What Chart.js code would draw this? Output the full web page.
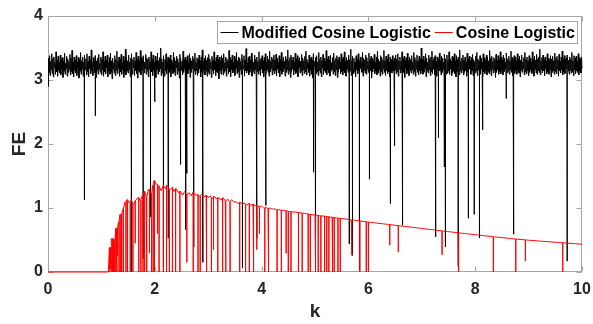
<!DOCTYPE html>
<html>
<head>
<meta charset="utf-8">
<script src="https://cdn.jsdelivr.net/npm/chart.js@4.4.0/dist/chart.umd.min.js"></script>
<style>
  html, body { margin: 0; padding: 0; background: #fff; }
</style>
</head>
<body>
<canvas id="chart" width="593" height="324"></canvas>
<script>
const seriesNames = ['Modified Cosine Logistic', 'Cosine Logistic']
const seriesColors = ['#000000', '#ff0000']
const xTicks = [0, 2, 4, 6, 8, 10]
const yTicks = [0, 1, 2, 3, 4]

// Modified Cosine Logistic, FE every 0.01 in k (k = 0 .. 10)
const modStep = 0.01
const modFE = [
  2.90,3.34,3.12,3.38,3.07,3.29,3.16,3.41,3.10,3.33,3.05,3.36,3.19,3.27,3.09,3.44,3.13,3.31,3.06,3.37,3.15,3.28,3.11,3.39,3.08,
  3.32,3.17,3.35,3.04,3.30,3.14,3.42,3.09,3.26,3.18,3.37,3.06,3.33,3.12,3.29,3.16,3.40,3.08,3.34,3.13,3.46,3.10,3.28,3.05,3.36,
  3.15,3.31,3.11,3.38,3.07,3.27,3.19,3.35,3.03,3.32,3.14,3.43,3.09,3.30,3.17,3.36,3.06,3.28,3.12,3.39,3.16,3.33,3.08,3.41,3.13,
  3.29,3.05,3.37,3.18,3.32,3.10,3.47,3.14,3.27,3.07,3.35,3.20,3.31,3.11,3.38,3.04,3.30,3.15,3.34,3.09,3.40,3.17,3.26,3.12,3.36,
  3.08,3.33,3.16,3.44,3.06,3.29,3.13,3.37,3.10,3.31,3.19,3.39,3.05,3.28,3.14,3.35,3.09,3.42,3.12,3.30,3.02,3.34,3.17,3.27,3.11,
  3.38,3.07,3.32,3.15,3.45,3.10,3.29,3.18,3.36,3.06,3.33,3.13,3.40,3.09,3.27,3.16,3.37,3.04,3.31,3.12,3.48,3.08,3.35,3.14,3.30,
  3.11,3.39,3.17,3.28,3.05,3.34,3.13,3.41,3.09,3.32,3.19,3.36,3.07,3.29,3.15,3.43,3.10,3.33,3.03,3.37,3.14,3.30,3.12,3.46,3.08,
  3.35,3.16,3.31,3.06,3.38,3.11,3.28,3.18,3.40,3.09,3.34,3.14,3.32,3.05,3.36,3.17,3.29,3.10,3.44,3.13,3.33,3.07,3.39,3.15,3.27,
  3.12,3.37,3.04,3.31,3.16,3.42,3.09,3.30,3.13,3.35,3.18,3.50,3.07,3.33,3.11,3.28,3.15,3.38,3.06,3.32,3.14,3.41,3.10,3.29,3.17,
  3.36,3.08,3.34,3.12,3.39,3.05,3.31,3.16,3.27,3.10,3.43,3.13,3.35,3.07,3.30,3.19,3.37,3.09,3.33,3.14,3.28,3.03,3.40,3.11,3.34,
  3.15,3.29,3.08,3.45,3.12,3.32,3.17,3.36,3.06,3.31,3.13,3.38,3.10,3.27,3.16,3.41,3.04,3.34,3.12,3.30,3.18,3.37,3.08,3.33,3.14,
  3.42,3.09,3.28,3.15,3.35,3.07,3.32,3.11,3.39,3.17,3.30,3.05,3.36,3.13,3.47,3.10,3.29,3.16,3.34,3.08,3.38,3.14,3.31,3.06,3.35,
  3.12,3.40,3.09,3.33,3.18,3.28,3.04,3.37,3.14,3.31,3.10,3.44,3.16,3.29,3.07,3.35,3.13,3.39,3.11,3.32,3.02,3.36,3.15,3.30,3.09,
  3.38,3.17,3.34,3.08,3.41,3.12,3.27,3.15,3.36,3.06,3.33,3.19,3.30,3.10,3.46,3.13,3.35,3.05,3.31,3.16,3.39,3.11,3.28,3.14,3.37,
  3.07,3.32,3.18,3.43,3.10,3.30,3.13,3.36,3.04,3.34,3.16,3.29,3.09,3.40,3.12,3.33,3.17,3.38,3.06,3.31,3.14,3.49,3.11,3.27,3.15,
  3.35,3.08,3.37,3.12,3.30,3.18,3.42,3.06,3.33,3.14,3.28,3.10,3.39,3.16,3.32,3.03,3.36,3.13,3.29,3.09,3.44,3.15,3.31,3.07,3.34,
  3.17,3.38,3.11,3.30,3.05,3.35,3.14,3.41,3.09,3.28,3.16,3.37,3.12,3.32,3.06,3.45,3.13,3.29,3.18,3.36,3.08,3.33,3.15,3.39,3.10,
  3.31,3.14,3.40,3.07,3.34,3.17,3.27,3.11,3.38,3.05,3.32,3.15,3.43,3.09,3.30,3.13,3.36,3.18,3.29,3.06,3.37,3.12,3.33,3.16,3.47,
  3.09,3.30,3.14,3.35,3.04,3.39,3.12,3.31,3.17,3.36,3.08,3.28,3.15,3.42,3.10,3.33,3.13,3.38,3.05,3.31,3.19,3.35,3.11,3.29,3.14,
  3.40,3.07,3.34,3.16,3.30,3.10,3.37,3.13,3.45,3.08,3.32,3.18,3.27,3.12,3.39,3.06,3.33,3.15,3.36,3.09,3.31,3.03,3.41,3.14,3.29,
  3.17,3.35,3.10,3.38,3.13,3.28,3.07,3.43,3.15,3.32,3.11,3.36,3.05,3.30,3.18,3.40,3.09,3.34,3.14,3.29,3.12,3.46,3.08,3.33,3.16,
  3.37,3.11,3.31,3.06,3.39,3.14,3.27,3.17,3.35,3.09,3.42,3.13,3.30,3.07,3.34,3.16,3.38,3.04,3.32,3.12,3.36,3.18,3.28,3.10,3.41,
  3.13,3.33,3.08,3.36,3.15,3.44,3.11,3.29,3.06,3.35,3.17,3.31,3.12,3.39,3.09,3.32,3.14,3.48,3.07,3.30,3.16,3.37,3.10,3.34,3.13,
  3.28,3.05,3.38,3.16,3.33,3.10,3.41,3.14,3.30,3.08,3.36,3.18,3.27,3.12,3.43,3.06,3.34,3.15,3.31,3.11,3.39,3.09,3.35,3.17,3.29,
  3.12,3.42,3.07,3.32,3.15,3.37,3.03,3.34,3.13,3.30,3.18,3.40,3.10,3.28,3.14,3.36,3.08,3.45,3.11,3.33,3.16,3.29,3.06,3.38,3.13,
  3.35,3.09,3.31,3.17,3.46,3.12,3.30,3.07,3.37,3.15,3.33,3.10,3.40,3.13,3.28,3.05,3.36,3.18,3.32,3.11,3.38,3.14,3.29,3.08,3.34,
  3.16,3.39,3.10,3.33,3.13,3.41,3.06,3.30,3.17,3.36,3.11,3.29,3.15,3.44,3.09,3.34,3.12,3.37,3.04,3.31,3.18,3.35,3.10,3.42,3.14,
  3.30,3.07,3.36,3.15,3.32,3.11,3.38,3.16,3.28,3.09,3.43,3.13,3.35,3.06,3.31,3.17,3.39,3.12,3.29,3.08,3.37,3.14,3.33,3.10,3.50,
  3.15,3.32,3.09,3.37,3.12,3.30,3.18,3.41,3.05,3.34,3.14,3.28,3.11,3.39,3.16,3.33,3.07,3.36,3.13,3.45,3.10,3.31,3.17,3.35,3.08,
  3.38,3.13,3.29,3.06,3.36,3.16,3.32,3.10,3.42,3.14,3.30,3.08,3.37,3.12,3.34,3.17,3.28,3.04,3.40,3.15,3.33,3.09,3.39,3.11,3.31,
  3.14,3.44,3.09,3.33,3.17,3.29,3.07,3.37,3.12,3.35,3.15,3.41,3.10,3.30,3.05,3.38,3.13,3.32,3.18,3.36,3.08,3.47,3.14,3.29,3.11,
  3.34,3.16,3.39,3.08,3.31,3.12,3.36,3.15,3.28,3.06,3.42,3.13,3.33,3.10,3.37,3.17,3.30,3.09,3.35,3.14,3.40,3.07,3.32,3.16,3.29,
  3.11,3.37,3.14,3.43,3.07,3.33,3.16,3.30,3.12,3.38,3.09,3.34,3.17,3.28,3.05,3.41,3.13,3.35,3.10,3.31,3.15,3.39,3.08,3.36,3.13,
  3.30,3.10,3.46,3.14,3.34,3.07,3.37,3.17,3.29,3.11,3.35,3.15,3.32,3.04,3.40,3.12,3.31,3.16,3.38,3.09,3.33,3.13,3.44,3.10,3.36,
  3.15,3.31,3.08,3.39,3.13,3.34,3.18,3.28,3.06,3.42,3.11,3.33,3.14,3.37,3.09,3.30,3.16,3.45,3.12,3.35,3.07,3.32,3.17,3.38,3.10,
  3.36,3.14,3.30,3.09,3.41,3.16,3.33,3.11,3.37,3.05,3.31,3.15,3.39,3.12,3.28,3.18,3.35,3.08,3.43,3.13,3.32,3.10,3.36,3.15,3.30,
  3.07,3.38,3.12,3.34,3.16,3.29,3.10,3.44,3.14,3.32,3.06,3.37,3.17,3.31,3.11,3.40,3.09,3.33,3.15,3.36,3.12,3.48,3.08,3.30,3.16,
  3.35,3.11,3.39,3.14,3.32,3.07,3.36,3.17,3.29,3.10,3.41,3.13,3.34,3.09,3.31,3.16,3.38,3.05,3.33,3.12,3.37,3.15,3.30,3.09,3.42,
  3.13,3.34,3.10,3.37,3.17,3.31,3.06,3.40,3.14,3.29,3.11,3.36,3.16,3.45,3.08,3.33,3.13,3.38,3.10,3.32,3.18,3.35,3.07,3.39,3.14,
  3.31,3.09,3.36,3.15,3.33,3.11,3.43,3.13,3.30,3.07,3.38,3.16,3.34,3.10,3.37,3.14,3.29,3.12,3.41,3.08,3.35,3.15,3.32,3.11,3.36,
  3.18
]
// sharp drops of the modified map: [k, lowest FE]
const modDrops = [
  [0.68, 1.13], [0.886, 2.44], [1.56, 0.01], [1.78, 0.21], [1.92, 0.86], [2.00, 2.66],
  [2.16, 0.08], [2.25, 0.53], [2.48, 1.68], [2.58, 0.66], [2.60, 1.54], [2.73, 0.39],
  [2.90, 0.15], [3.64, 0.06], [3.91, 0.53], [4.08, 1.04], [4.97, 1.56], [5.01, 0.63],
  [5.64, 0.44], [5.70, 0.26], [5.83, 0.03], [6.02, 1.45], [6.41, 1.07], [6.49, 1.97],
  [6.64, 0.73], [7.26, 0.55], [7.31, 2.10], [7.42, 1.64], [7.44, 0.39], [7.68, 0.09],
  [7.87, 0.84], [7.98, 0.90], [8.08, 0.53], [8.14, 2.22], [8.58, 2.71], [8.72, 0.59],
  [9.72, 0.17]
]

// Cosine Logistic: FE = 0 for k < 1.12, then every 0.04 in k up to 10
const cosStart = 1.12
const cosStep = 0.04
const cosFE = [
  0.00,0.38,0.52,0.48,0.68,0.78,0.90,0.98,1.09,1.13,1.08,1.14,1.05,1.11,1.16,1.12,1.19,1.26,1.18,1.29,
  1.22,1.35,1.43,1.36,1.34,1.27,1.35,1.30,1.35,1.28,1.32,1.26,1.30,1.24,1.26,1.20,1.26,1.20,1.24,1.19,
  1.25,1.20,1.21,1.18,1.22,1.17,1.20,1.16,1.19,1.15,1.18,1.14,1.16,1.12,1.16,1.11,1.14,1.10,1.13,1.09,
  1.10,1.07,1.09,1.06,1.08,1.05,1.07,1.04,1.06,1.03,1.04,1.02,1.03,1.00,1.01,0.99,1.00,0.98,0.99,0.97,
  0.975,0.965,0.965,0.955,0.955,0.945,0.945,0.935,0.938,0.928,0.927,0.918,0.917,0.908,0.907,0.898,0.897,0.888,
  0.886,0.882,0.877,0.873,0.868,0.862,0.859,0.855,0.850,0.846,0.842,0.837,0.833,0.829,0.824,0.819,0.815,0.812,0.806,0.802,
  0.798,0.793,0.789,0.785,0.780,0.776,0.772,0.769,0.764,0.760,0.757,0.752,0.748,0.745,0.740,0.736,0.733,0.728,0.724,0.721,
  0.716,0.712,0.709,0.704,0.700,0.697,0.692,0.688,0.685,0.680,0.676,0.673,0.668,0.664,0.661,0.656,0.652,0.649,0.644,0.640,
  0.637,0.632,0.628,0.625,0.621,0.617,0.614,0.609,0.605,0.602,0.597,0.594,0.591,0.586,0.582,0.579,0.575,0.572,0.567,0.564,
  0.561,0.557,0.554,0.549,0.546,0.543,0.539,0.536,0.532,0.528,0.525,0.522,0.518,0.515,0.513,0.509,0.506,0.503,0.500,0.497,
  0.494,0.492,0.489,0.486,0.484,0.481,0.479,0.476,0.474,0.471,0.469,0.467,0.464,0.461,0.459,0.457,0.454,0.451,0.449,0.447,
  0.444,0.441,0.439,0.437,0.435
]
// drops of the cosine map: [k, lowest FE]
const cosDrops = [
  [1.13, 0], [1.15, 0], [1.17, 0.05], [1.18, 0], [1.19, 0.22], [1.21, 0], [1.22, 0], [1.23, 0.30],
  [1.25, 0], [1.27, 0], [1.29, 0], [1.30, 0.25], [1.33, 0], [1.35, 0], [1.38, 0], [1.41, 0],
  [1.46, 0], [1.49, 0], [1.54, 0], [1.59, 0], [1.63, 0.45], [1.70, 0], [1.74, 0], [1.78, 0],
  [1.81, 0], [1.85, 0], [1.90, 0.30], [1.94, 0], [1.97, 0], [1.99, 0], [2.05, 0.60], [2.08, 0],
  [2.16, 0], [2.22, 0], [2.27, 0], [2.33, 0], [2.39, 0], [2.47, 0], [2.60, 0.15], [2.72, 0],
  [2.81, 0], [2.85, 0], [2.97, 0], [3.06, 0], [3.10, 0.35], [3.18, 0], [3.27, 0], [3.33, 0],
  [3.41, 0], [3.59, 0], [3.70, 0], [3.77, 0], [3.85, 0], [3.91, 0.35], [3.96, 0.60], [4.06, 0],
  [4.13, 0], [4.29, 0], [4.37, 0], [4.46, 0.29], [4.50, 0], [4.55, 0], [4.69, 0], [4.76, 0],
  [4.87, 0], [4.91, 0], [5.01, 0], [5.06, 0], [5.11, 0], [5.18, 0], [5.22, 0], [5.26, 0],
  [5.33, 0], [5.36, 0], [5.43, 0], [5.47, 0], [5.69, 0.26], [5.84, 0], [5.96, 0], [6.00, 0],
  [6.40, 0.42], [6.56, 0.31], [7.38, 0.27], [7.69, 0], [8.34, 0], [8.76, 0], [8.94, 0.17], [9.64, 0]
]

const tickFont = { family: '"Liberation Sans", Arial, Helvetica, sans-serif', size: 16, weight: 'bold' }
const titleFont = { family: '"Liberation Sans", Arial, Helvetica, sans-serif', size: 19, weight: 'bold' }
const textColor = '#262626'
const boxColor = '#a6a6a6'

// turn a sampled curve plus its drops into {x, y} points, sorted by k
function buildPoints(start, step, values, drops) {
  let pts = values.map((v, i) => ({ x: +(start + i * step).toFixed(4), y: v }))
  drops.forEach(d => {
    const top = values[Math.round((d[0] - start) / step)]
    pts.push({ x: d[0], y: top }, { x: d[0], y: d[1] }, { x: d[0], y: top })
  })
  pts.sort((a, b) => a.x - b.x)
  return pts
}

const modPoints = buildPoints(0, modStep, modFE, modDrops)
const cosPoints = [{ x: 0, y: 0 }].concat(buildPoints(cosStart, cosStep, cosFE, cosDrops))

// axes box with inward ticks on all four sides
const axesBox = {
  id: 'axesBox',
  beforeDatasetsDraw(chart) {
    const ctx = chart.ctx
    const a = chart.chartArea
    const xs = chart.scales.x
    const ys = chart.scales.y
    const L = Math.round(a.left) + 0.5, R = Math.round(a.right) - 0.5
    const T = Math.round(a.top) + 0.5, B = Math.round(a.bottom) - 0.5
    ctx.save()
    ctx.strokeStyle = boxColor
    ctx.lineWidth = 1
    ctx.strokeRect(L, T, R - L, B - T)
    ctx.beginPath()
    xTicks.forEach(t => {
      const px = Math.round(xs.getPixelForValue(t)) + 0.5
      ctx.moveTo(px, B); ctx.lineTo(px, B - 5)
      ctx.moveTo(px, T); ctx.lineTo(px, T + 5)
    })
    yTicks.forEach(t => {
      const py = Math.round(ys.getPixelForValue(t)) + 0.5
      ctx.moveTo(L, py); ctx.lineTo(L + 5, py)
      ctx.moveTo(R, py); ctx.lineTo(R - 5, py)
    })
    ctx.stroke()
    ctx.restore()
  }
}

// boxed legend in the upper right corner, items side by side
const legendBox = {
  id: 'legendBox',
  afterDatasetsDraw(chart) {
    const ctx = chart.ctx
    const a = chart.chartArea
    ctx.save()
    ctx.font = 'bold 16px "Liberation Sans", Arial, Helvetica, sans-serif'
    const lineLen = 18
    const widths = seriesNames.map(n => ctx.measureText(n).width)
    const w = 3 + lineLen + 3 + widths[0] + 4 + lineLen + 3 + widths[1] + 3
    const right = Math.round(a.right) - 4.5
    const left = Math.round(right - w) + 0.5
    const top = Math.round(a.top) + 5.5
    const h = 22
    ctx.fillStyle = '#ffffff'
    ctx.fillRect(left, top, right - left, h)
    ctx.strokeStyle = boxColor
    ctx.lineWidth = 1
    ctx.strokeRect(left, top, right - left, h)
    let x = left + 3
    const cy = top + h / 2
    seriesNames.forEach((n, i) => {
      ctx.strokeStyle = seriesColors[i]
      ctx.beginPath()
      ctx.moveTo(x, Math.round(cy) - 0.5)
      ctx.lineTo(x + lineLen, Math.round(cy) - 0.5)
      ctx.stroke()
      x += lineLen + 3
      ctx.fillStyle = '#000000'
      ctx.textBaseline = 'middle'
      ctx.textAlign = 'left'
      ctx.fillText(n, x, cy + 1)
      x += widths[i] + 4
    })
    ctx.restore()
  }
}

new Chart(document.getElementById('chart'), {
  type: 'line',
  data: {
    datasets: [
      {
        label: seriesNames[0],
        data: modPoints,
        borderColor: seriesColors[0],
        borderWidth: 1,
        pointRadius: 0,
        tension: 0,
        order: 2,
        clip: false
      },
      {
        label: seriesNames[1],
        data: cosPoints,
        borderColor: seriesColors[1],
        borderWidth: 1,
        pointRadius: 0,
        tension: 0,
        order: 1,
        clip: false
      }
    ]
  },
  options: {
    responsive: false,
    animation: false,
    events: [],
    layout: { padding: { top: 16, right: 11, left: 0, bottom: 0 } },
    plugins: {
      legend: { display: false },
      tooltip: { enabled: false }
    },
    scales: {
      x: {
        type: 'linear',
        min: 0,
        max: 10,
        grid: { display: false, drawTicks: false },
        border: { display: false },
        ticks: { stepSize: 2, font: tickFont, color: textColor, padding: 8, maxRotation: 0 },
        title: { display: true, text: 'k', font: titleFont, color: textColor, padding: { top: 0, bottom: 1 } },
        afterFit(scale) {
          scale.height = 52
          scale.paddingLeft = 0
          scale.paddingRight = 0
        }
      },
      y: {
        min: 0,
        max: 4,
        grid: { display: false, drawTicks: false },
        border: { display: false },
        ticks: { stepSize: 1, font: tickFont, color: textColor, padding: 5 },
        title: { display: true, text: 'FE', font: titleFont, color: textColor, padding: { top: 8, bottom: 0 } },
        afterFit(scale) {
          scale.width = 48
          scale.paddingTop = 0
          scale.paddingBottom = 0
        }
      }
    }
  },
  plugins: [axesBox, legendBox]
})
</script>
</body>
</html>
